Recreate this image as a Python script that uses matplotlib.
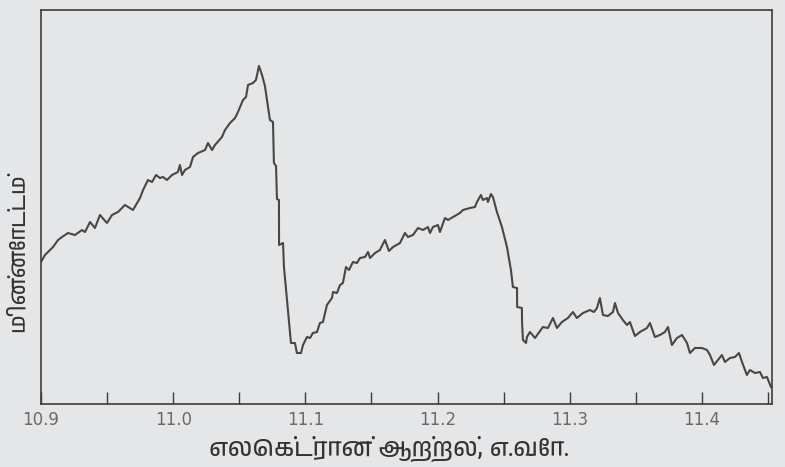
import matplotlib
matplotlib.use("Agg")
import matplotlib.pyplot as plt
from matplotlib import font_manager
from matplotlib.ticker import MultipleLocator, FixedLocator

# எலெக்ட்ரான் ஆற்றல் (eV) vs மின்னோட்டம் (arbitrary units)
energy = [
    10.9000, 10.9030, 10.9091, 10.9129, 10.9159, 10.9204, 10.9257, 10.9310, 10.9333, 10.9371,
    10.9408, 10.9446, 10.9499, 10.9537, 10.9582, 10.9635, 10.9696, 10.9749, 10.9772, 10.9809,
    10.9840, 10.9870, 10.9900, 10.9923, 10.9953, 10.9991, 11.0036, 11.0051, 11.0067, 11.0089,
    11.0127, 11.0150, 11.0188, 11.0241, 11.0263, 11.0294, 11.0316, 11.0369, 11.0392, 11.0430,
    11.0468, 11.0490, 11.0528, 11.0551, 11.0566, 11.0604, 11.0626, 11.0649, 11.0672, 11.0694,
    11.0732, 11.0755, 11.0762, 11.0778, 11.0785, 11.0800, 11.0801, 11.0831, 11.0838, 11.0861,
    11.0891, 11.0921, 11.0936, 11.0967, 11.0982, 11.1012, 11.1035, 11.1057, 11.1088, 11.1110,
    11.1133, 11.1163, 11.1201, 11.1209, 11.1239, 11.1262, 11.1284, 11.1307, 11.1330, 11.1360,
    11.1390, 11.1413, 11.1451, 11.1474, 11.1489, 11.1527, 11.1564, 11.1602, 11.1632, 11.1663,
    11.1716, 11.1753, 11.1776, 11.1814, 11.1852, 11.1890, 11.1927, 11.1943, 11.1965, 11.2003,
    11.2018, 11.2056, 11.2079, 11.2117, 11.2169, 11.2192, 11.2245, 11.2283, 11.2298, 11.2328,
    11.2343, 11.2374, 11.2381, 11.2404, 11.2419, 11.2449, 11.2487, 11.2525, 11.2555, 11.2570,
    11.2601, 11.2602, 11.2638, 11.2639, 11.2646, 11.2669, 11.2676, 11.2699, 11.2737, 11.2759,
    11.2797, 11.2835, 11.2873, 11.2903, 11.2941, 11.2986, 11.3024, 11.3054, 11.3100, 11.3153,
    11.3183, 11.3206, 11.3228, 11.3251, 11.3289, 11.3327, 11.3342, 11.3365, 11.3402, 11.3433,
    11.3455, 11.3493, 11.3531, 11.3584, 11.3607, 11.3644, 11.3682, 11.3720, 11.3743, 11.3773,
    11.3811, 11.3849, 11.3887, 11.3909, 11.3947, 11.4000, 11.4038, 11.4061, 11.4091, 11.4121,
    11.4151, 11.4174, 11.4212, 11.4250, 11.4280, 11.4303, 11.4340, 11.4363, 11.4401, 11.4439,
    11.4461, 11.4492, 11.4522,
]
current = [
    142, 149, 157, 164, 167, 171, 169, 174, 172, 182,
    176, 189, 181, 189, 192, 199, 194, 206, 214, 224,
    222, 229, 226, 227, 224, 229, 232, 239, 229, 234,
    237, 247, 251, 254, 261, 254, 259, 267, 274, 281,
    286, 292, 304, 307, 319, 321, 324, 338, 329, 318,
    284, 282, 241, 238, 205, 204, 159, 161, 137, 104,
    61, 61, 51, 51, 59, 67, 66, 71, 72, 81,
    82, 99, 106, 112, 111, 119, 121, 137, 134, 142,
    141, 146, 147, 152, 146, 151, 154, 164, 153, 157,
    161, 171, 167, 169, 176, 174, 177, 171, 177, 179,
    172, 186, 184, 187, 191, 194, 196, 197, 202, 209,
    204, 206, 202, 210, 207, 192, 177, 157, 134, 117,
    116, 97, 96, 82, 64, 61, 67, 72, 66, 70,
    77, 76, 86, 76, 82, 86, 92, 86, 91, 94,
    92, 96, 106, 89, 88, 92, 101, 91, 84, 79,
    82, 68, 72, 76, 81, 67, 69, 72, 77, 59,
    66, 69, 61, 51, 56, 56, 54, 49, 39, 44,
    49, 42, 46, 47, 51, 42, 29, 34, 31, 32,
    26, 27, 17,
]
major_ticks = [10.9, 11.0, 11.1, 11.2, 11.3, 11.4]
tick_labels = ["10.9", "11.0", "11.1", "11.2", "11.3", "11.4"]
xlabel = "எலெக்ட்ரான் ஆற்றல், எ.வோ."
ylabel = "மின்னோட்டம்"

# pick a font that has Tamil glyphs if one is installed
tamil_fonts = sorted({f.name for f in font_manager.fontManager.ttflist if "Tamil" in f.name})
label_family = tamil_fonts[:1] + ["Noto Sans", "DejaVu Sans"]

bg = "#e4e6e8"
ink = "#474747"

fig = plt.figure(figsize=(7.85, 4.67), dpi=100, facecolor=bg)
ax = fig.add_axes([41 / 785, 1 - 404 / 467, 731 / 785, 394 / 467], facecolor=bg)

ax.plot(energy, current, color=ink, lw=1.5, solid_joinstyle="round")

ax.set_xlim(10.9, 11.453)
ax.set_ylim(0, 394)

for s in ax.spines.values():
    s.set_color("#3c3c3c")
    s.set_linewidth(1.2)

ax.xaxis.set_major_locator(FixedLocator(major_ticks))
ax.xaxis.set_minor_locator(MultipleLocator(0.05))
ax.set_xticklabels(tick_labels)
ax.tick_params(axis="x", which="both", direction="in", length=9, width=1.0,
               color="#3c3c3c", top=False)
ax.tick_params(axis="x", which="major", pad=5, labelsize=12, labelcolor="#6a6a6a")
ax.set_yticks([])
for t in ax.get_xticklabels():
    t.set_fontfamily(["DejaVu Sans"])

fig.text(389 / 785, 1 - 449 / 467, xlabel, ha="center", va="center",
         fontsize=18, style="italic", color="#333333", family=label_family)
fig.text(18 / 785, 1 - 253 / 467, ylabel, ha="center", va="center", rotation=90,
         fontsize=16, color="#333333", family=label_family)

fig.savefig("out.png", dpi=100, facecolor=bg)
